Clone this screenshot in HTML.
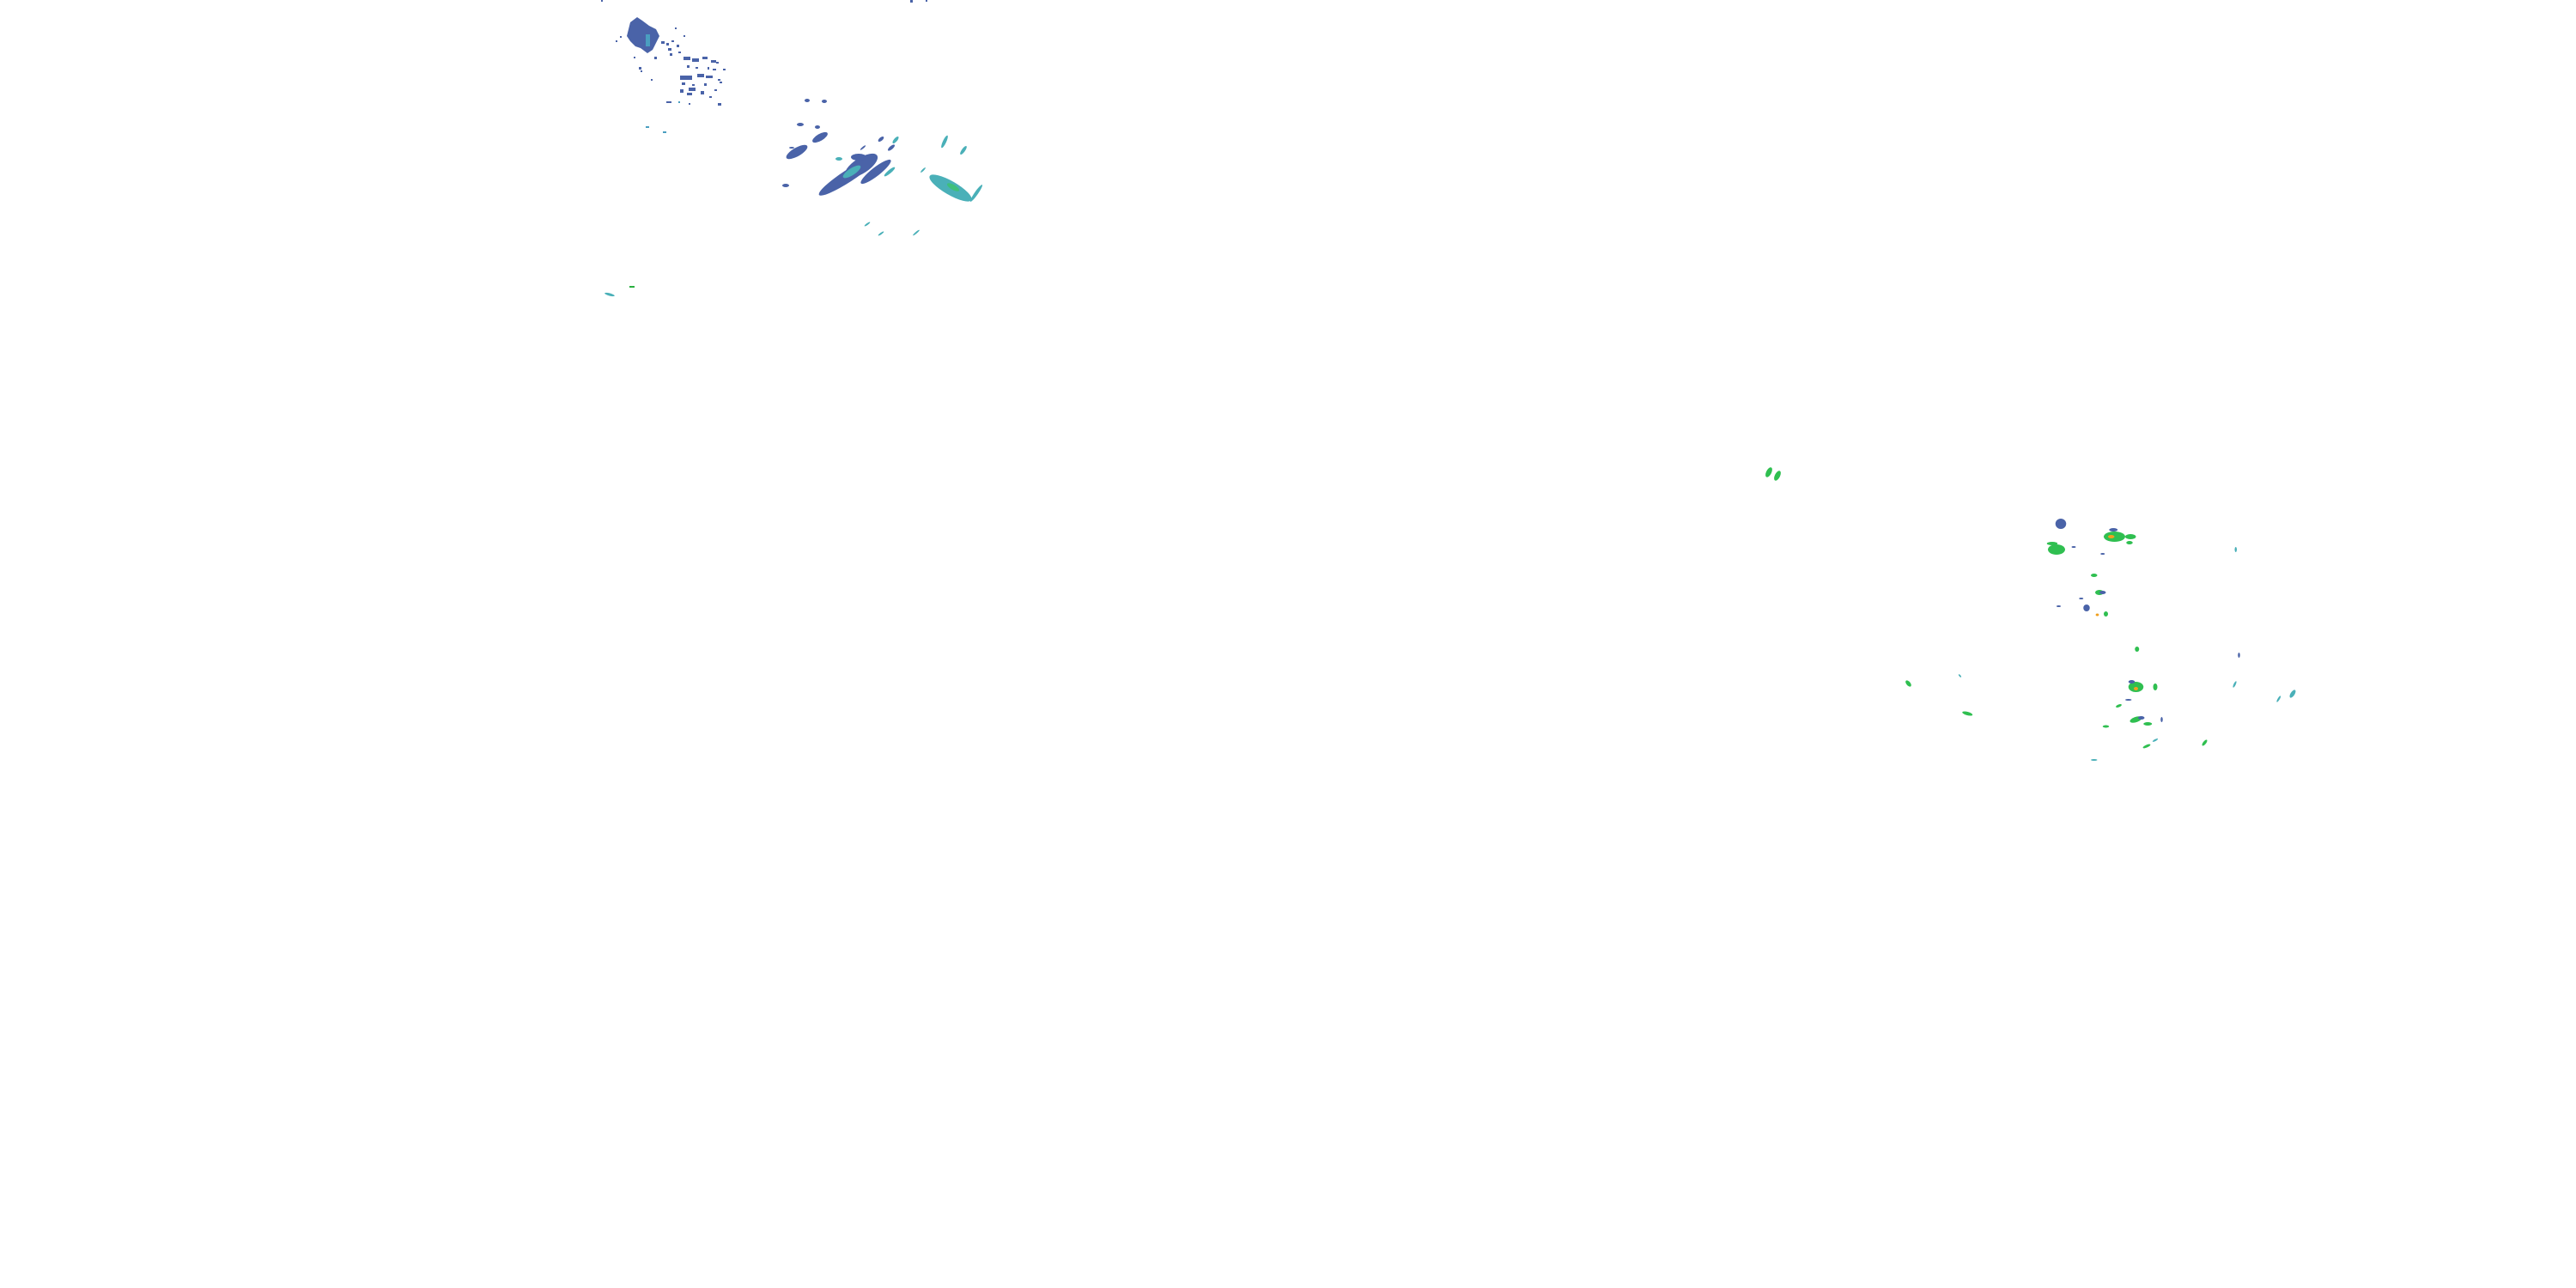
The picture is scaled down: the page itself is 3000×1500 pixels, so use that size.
<!DOCTYPE html>
<html><head><meta charset="utf-8"><style>html,body{margin:0;padding:0;background:#fff;}svg{display:block}</style></head>
<body>
<svg width="3000" height="1500" viewBox="0 0 3000 1500" xmlns="http://www.w3.org/2000/svg">
<g fill="#4a63a8">
<path d="M734,26 L742,20 L748,24 L756,30 L764,34 L768,42 L764,50 L760,58 L754,62 L746,56 L740,54 L734,48 L730,42 Z"/>
<rect x="700" y="0" width="2" height="2"/><rect x="1060" y="0" width="3" height="3"/><rect x="1078" y="0" width="2" height="2"/>
<rect x="722" y="42" width="2" height="2"/><rect x="717" y="47" width="2" height="2"/>
<rect x="770" y="48" width="4" height="3"/><rect x="776" y="50" width="3" height="3"/><rect x="782" y="47" width="3" height="2"/>
<rect x="778" y="56" width="4" height="3"/><rect x="788" y="52" width="3" height="3"/><rect x="786" y="32" width="2" height="2"/><rect x="796" y="41" width="2" height="2"/>
<rect x="780" y="62" width="3" height="3"/><rect x="790" y="60" width="3" height="2"/><rect x="796" y="66" width="8" height="4"/><rect x="806" y="68" width="8" height="4"/><rect x="818" y="66" width="6" height="3"/><rect x="828" y="70" width="6" height="3"/><rect x="834" y="72" width="3" height="2"/><rect x="842" y="80" width="3" height="2"/>
<rect x="800" y="76" width="3" height="3"/><rect x="810" y="78" width="3" height="2"/><rect x="824" y="78" width="2" height="3"/><rect x="830" y="80" width="4" height="2"/>
<rect x="792" y="88" width="14" height="5"/><rect x="812" y="86" width="8" height="4"/><rect x="822" y="88" width="8" height="3"/><rect x="836" y="92" width="3" height="2"/>
<rect x="794" y="96" width="4" height="3"/><rect x="806" y="98" width="3" height="2"/><rect x="820" y="97" width="3" height="3"/><rect x="838" y="95" width="3" height="2"/>
<rect x="792" y="104" width="4" height="4"/><rect x="802" y="102" width="8" height="4"/><rect x="816" y="106" width="4" height="4"/><rect x="832" y="104" width="3" height="2"/><rect x="800" y="108" width="6" height="3"/><rect x="826" y="112" width="3" height="2"/>
<rect x="776" y="118" width="6" height="2"/><rect x="802" y="120" width="2" height="2"/><rect x="836" y="120" width="4" height="3"/>
<rect x="738" y="66" width="2" height="2"/><rect x="762" y="66" width="3" height="3"/><rect x="744" y="78" width="3" height="3"/><rect x="746" y="82" width="2" height="2"/><rect x="758" y="92" width="2" height="2"/>
</g>
<g fill="#4a9ec0"><rect x="752" y="40" width="5" height="14"/><rect x="790" y="118" width="2" height="2"/><rect x="752" y="147" width="4" height="2"/><rect x="772" y="153" width="4" height="2"/></g>
<g fill="#4a63a8">
<ellipse cx="928" cy="177" rx="14" ry="5" transform="rotate(-30 928 177)"/>
<ellipse cx="955" cy="160" rx="10" ry="4" transform="rotate(-30 955 160)"/>
<ellipse cx="952" cy="148" rx="3" ry="2"/><ellipse cx="932" cy="145" rx="4" ry="2"/>
<ellipse cx="985" cy="197" rx="40" ry="7" transform="rotate(-33 1000 197)"/>
<ellipse cx="1003" cy="193" rx="22" ry="9" transform="rotate(-33 1003 193)"/>
<ellipse cx="1020" cy="200" rx="22" ry="5" transform="rotate(-38 1020 200)"/>
<ellipse cx="1000" cy="183" rx="9" ry="4"/>
<ellipse cx="1026" cy="162" rx="4" ry="2" transform="rotate(-40 1026 162)"/>
<ellipse cx="1038" cy="172" rx="5" ry="2" transform="rotate(-40 1038 172)"/>
<ellipse cx="940" cy="117" rx="3" ry="2"/><ellipse cx="960" cy="118" rx="3" ry="2"/><ellipse cx="915" cy="216" rx="4" ry="2"/><ellipse cx="922" cy="172" rx="3" ry="1"/>
<ellipse cx="1005" cy="172" rx="4" ry="1" transform="rotate(-40 1005 172)"/>
</g>
<g fill="#4ab0b8">
<ellipse cx="992" cy="200" rx="12" ry="4" transform="rotate(-33 992 200)"/>
<ellipse cx="1036" cy="200" rx="8" ry="2" transform="rotate(-40 1036 200)"/>
<ellipse cx="977" cy="185" rx="4" ry="2"/>
<ellipse cx="1107" cy="219" rx="28" ry="8" transform="rotate(30 1107 219)"/>
<ellipse cx="1137" cy="225" rx="12" ry="2" transform="rotate(-55 1137 225)"/>
<ellipse cx="1100" cy="165" rx="8" ry="2" transform="rotate(-65 1100 165)"/>
<ellipse cx="1122" cy="175" rx="6" ry="2" transform="rotate(-55 1122 175)"/>
<ellipse cx="1075" cy="198" rx="4" ry="1" transform="rotate(-45 1075 198)"/>
<ellipse cx="1010" cy="261" rx="4" ry="1" transform="rotate(-35 1010 261)"/>
<ellipse cx="1026" cy="272" rx="4" ry="1" transform="rotate(-35 1026 272)"/>
<ellipse cx="1067" cy="271" rx="5" ry="1" transform="rotate(-40 1067 271)"/>
<ellipse cx="1043" cy="163" rx="5" ry="2" transform="rotate(-50 1043 163)"/>
<ellipse cx="710" cy="343" rx="6" ry="1.5" transform="rotate(15 710 343)"/>
</g>
<ellipse cx="1110" cy="218" rx="8" ry="3" fill="#3ec07a" transform="rotate(30 1110 218)"/>
<rect x="733" y="333" width="6" height="2" fill="#2ab040"/>
<g transform="matrix(1.25 0 0 1 -512.5 0)">
<g fill="#2fbf50">
<ellipse cx="2058" cy="550" rx="2.5" ry="6" transform="rotate(20 2058 550)"/>
<ellipse cx="2066" cy="554" rx="2.5" ry="6" transform="rotate(20 2066 554)"/>
<ellipse cx="2326" cy="640" rx="8" ry="6"/><ellipse cx="2322" cy="633" rx="5" ry="2"/>
<ellipse cx="2380" cy="625" rx="10" ry="6"/><ellipse cx="2395" cy="625" rx="5" ry="3"/>
<ellipse cx="2394" cy="632" rx="3" ry="2"/><ellipse cx="2361" cy="670" rx="3" ry="2"/>
<ellipse cx="2366" cy="690" rx="4" ry="3"/><ellipse cx="2372" cy="715" rx="2" ry="3"/>
<ellipse cx="2418" cy="800" rx="2" ry="4"/><ellipse cx="2401" cy="756" rx="2" ry="3"/>
<ellipse cx="2188" cy="796" rx="2" ry="4" transform="rotate(-30 2188 796)"/>
<ellipse cx="2243" cy="831" rx="5" ry="2" transform="rotate(20 2243 831)"/>
<ellipse cx="2400" cy="800" rx="7" ry="6"/>
<ellipse cx="2384" cy="822" rx="3" ry="1.5" transform="rotate(-30 2384 822)"/>
<ellipse cx="2400" cy="838" rx="6" ry="3" transform="rotate(-25 2400 838)"/>
<ellipse cx="2411" cy="843" rx="4" ry="2"/>
<ellipse cx="2372" cy="846" rx="3" ry="1.5"/>
<ellipse cx="2410" cy="869" rx="4" ry="1.5" transform="rotate(-30 2410 869)"/>
<ellipse cx="2464" cy="865" rx="1.5" ry="4" transform="rotate(30 2464 865)"/>
</g>
<g fill="#4a63a8">
<ellipse cx="2330" cy="610" rx="5" ry="6"/><ellipse cx="2379" cy="617" rx="4" ry="2"/>
<ellipse cx="2342" cy="637" rx="2" ry="1"/><ellipse cx="2369" cy="645" rx="2" ry="1"/>
<ellipse cx="2369" cy="690" rx="3" ry="2"/><ellipse cx="2349" cy="697" rx="2" ry="1"/>
<ellipse cx="2328" cy="706" rx="2" ry="1"/><ellipse cx="2354" cy="708" rx="3" ry="4"/>
<ellipse cx="2396" cy="794" rx="3" ry="2"/><ellipse cx="2393" cy="815" rx="3" ry="1"/>
<ellipse cx="2405" cy="836" rx="3" ry="2"/><ellipse cx="2424" cy="838" rx="1" ry="3"/>
<ellipse cx="2496" cy="763" rx="1" ry="3"/>
</g>
<g fill="#f0a020"><ellipse cx="2377" cy="625" rx="3" ry="2"/><ellipse cx="2400" cy="802" rx="2" ry="2"/><ellipse cx="2364" cy="716" rx="1.5" ry="1.5"/></g>
<g fill="#4ab0b8">
<ellipse cx="2493" cy="640" rx="1" ry="3"/><ellipse cx="2492" cy="797" rx="1" ry="4" transform="rotate(20 2492 797)"/>
<ellipse cx="2546" cy="808" rx="2" ry="5" transform="rotate(25 2546 808)"/>
<ellipse cx="2533" cy="814" rx="1" ry="4" transform="rotate(25 2533 814)"/>
<ellipse cx="2418" cy="862" rx="3" ry="1" transform="rotate(-35 2418 862)"/>
<ellipse cx="2361" cy="885" rx="3" ry="1"/><ellipse cx="2236" cy="787" rx="0.8" ry="2" transform="rotate(-30 2236 787)"/>
</g>
</g>
</svg>
</body></html>
